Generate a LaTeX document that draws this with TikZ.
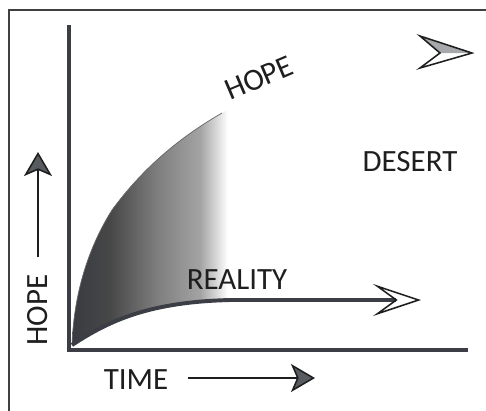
\documentclass[tikz,border=0pt]{standalone}
\usepackage{fontspec}
\setmainfont{Carlito}
\usetikzlibrary{positioning, arrows.meta, calc}
\definecolor{axisGray}{HTML}{3B3E44}
\definecolor{inkBlack}{HTML}{1E1E1E}
\pgfdeclarehorizontalshading{hopefade}{100bp}{color(0bp)=(axisGray!95!black);
  color(25bp)=(axisGray!95!black); color(36bp)=(black!72); color(50bp)=(black!50);
  color(62bp)=(black!36); color(67bp)=(black!14); color(70bp)=(white); color(100bp)=(white)}

\begin{document}
\begin{tikzpicture}[
  x=0.025cm, y=-0.025cm,
  lbl/.style={font=\fontsize{22}{26}\selectfont, text=inkBlack, inner sep=2pt},
  axisline/.style={draw=axisGray, line width=3.5pt},
  realityline/.style={draw=axisGray, line width=2.8pt,
    -{Stealth[open, length=12mm, width=8mm, inset=5.5mm, line width=1.1pt, color=inkBlack]}},
  arr/.style={draw=inkBlack, line width=1.1pt,
    -{Stealth[length=6mm, width=7mm, inset=1.5mm, fill=axisGray!85]}}
]
\useasboundingbox (0,0) rectangle (486,410);
\draw[inkBlack!85, line width=1pt] (9,10) rectangle (500,420);

% axes
\coordinate (O) at (69,350);
\coordinate (ytop) at (69,25);
\coordinate (xend) at (468,350);

% curves
\coordinate (start) at (72,345);
\coordinate (hopekink) at (112,210);
\coordinate (hopeend) at (222,113);
\coordinate (realend) at (421,300);

\shade[shading=hopefade]
  (start) .. controls (74,290) and (90,245) .. (hopekink)
          .. controls (140,172) and (175,140) .. (hopeend)
  -- (245,100) -- (245,300) -- (230,300)
  .. controls (150,302) and (110,320) .. (start) -- cycle;
\draw[black!60, line width=0.5pt] (start) .. controls (74,290) and (90,245) .. (hopekink)
  .. controls (140,172) and (175,140) .. (hopeend);

\draw[realityline] (start) .. controls (110,320) and (150,302) .. (230,300) -- (realend);
\draw[axisline] (ytop) -- (O) -- (xend);

% labels
\node[lbl, rotate=23] (hopecurve) at (259,78) {HOPE};
\node[lbl, rotate=90] (hopey) at (38,310) {HOPE};
\node[lbl] (time) at (136,380) {TIME};
\node[lbl] (desert) at (410,162) {DESERT};
\node[lbl] (reality) at (237,280) {REALITY};

% axis arrows
\coordinate (hopetail) at (38,257);
\coordinate (hopetip) at (38,152);
\coordinate (timetail) at (188,378);
\coordinate (timetip) at (315,378);
\draw[arr] (hopetail) -- (hopetip);
\draw[arr] (timetail) -- (timetip);

% lone arrowhead
\coordinate (deserttip) at (472,53);
\fill[axisGray!45] (420,36) -- (deserttip) -- (440,53) -- cycle;
\draw[inkBlack, line width=1.1pt] (420,36) -- (deserttip) -- (420,68) -- (440,53) -- cycle;
\end{tikzpicture}
\end{document}
